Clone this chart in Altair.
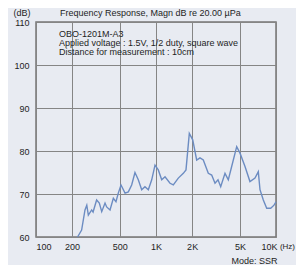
import altair as alt
import pandas as pd

freq = [222, 240, 256, 265, 273, 291, 299, 320, 337, 353,
        376, 388, 414, 441, 464, 485, 511, 552, 588, 627,
        668, 712, 760, 809, 863, 921, 981, 1045, 1116, 1189,
        1309, 1394, 1534, 1689, 1778, 1895, 2023, 2183, 2326, 2478,
        2728, 2911, 3103, 3286, 3461, 3758, 4004, 4272, 4704, 5012,
        5517, 6067, 6683, 7120, 7356, 7839, 8366, 9036, 9624, 10000]
db = [60.0, 61.6, 66.3, 67.4, 65.1, 66.3, 65.8, 68.6, 67.9, 65.9,
      67.9, 67.0, 66.3, 69.0, 68.2, 70.2, 72.1, 70.2, 70.5, 72.1,
      75.0, 73.3, 71.0, 71.7, 71.0, 73.3, 76.7, 75.6, 73.3, 74.0,
      72.5, 72.1, 73.7, 74.8, 75.6, 84.1, 82.6, 77.9, 78.4, 77.9,
      74.8, 74.4, 72.5, 73.3, 71.7, 74.8, 73.3, 76.4, 81.0, 79.5,
      76.4, 72.9, 73.7, 75.2, 71.0, 68.6, 66.7, 66.7, 67.4, 68.2]

x_ticks = [100, 200, 500, 1000, 2000, 5000, 10000]
x_tick_labels = ["100", "200", "500", "1K", "2K", "5K", "10K"]
y_ticks = [60, 70, 80, 90, 100, 110]

title_text = "Frequency Response, Magn dB re 20.00 µPa"
note_lines = ["OBO-1201M-A3",
              "Applied voltage : 1.5V, 1/2 duty, square wave",
              "Distance for measurement : 10cm"]

df = pd.DataFrame({"freq": freq, "db": db})

label_map = "{" + ",".join(f"'{v}':'{l}'" for v, l in zip(x_ticks, x_tick_labels)) + "}"

FONT = "Liberation Sans"
TXT = "#1e1e1e"

line = alt.Chart(df).mark_line(color="#6c8cc2", strokeWidth=1.4).encode(
    x=alt.X("freq:Q",
            scale=alt.Scale(type="log", domain=[100, 10000], nice=False),
            axis=alt.Axis(values=x_ticks, labelExpr=f"{label_map}[datum.value]",
                          ticks=False, domain=False, labelPadding=5,
                          labelAlign=alt.condition("datum.value <= 100", alt.value("left"), alt.value("center")),
                          labelOffset=alt.condition("datum.value >= 10000", alt.value(-7), alt.value(0)),
                          title="Mode: SSR", titleX=241, titleY=23, titleAlign="right",
                          titleBaseline="middle", titleFontWeight="normal",
                          gridColor="#858585", gridWidth=1)),
    y=alt.Y("db:Q",
            scale=alt.Scale(domain=[60, 110], nice=False, zero=False),
            axis=alt.Axis(values=y_ticks, ticks=False, domain=False, labelPadding=7,
                          title=None, gridColor="#858585", gridWidth=1)),
)

def label(text, x, y, align="left", baseline="middle", size=9):
    return alt.Chart(pd.DataFrame({"t": [text]})).mark_text(
        align=align, baseline=baseline, font=FONT, fontSize=size, color=TXT
    ).encode(text="t:N", x=alt.value(x), y=alt.value(y))

notes = alt.Chart(pd.DataFrame({"t": [note_lines]})).mark_text(
    align="left", baseline="top", font=FONT, fontSize=9, color=TXT, lineHeight=9
).encode(text="t", x=alt.value(23), y=alt.value(8))

chart = alt.layer(
    line,
    notes,
    label(title_text, 24, -9),
    label("(dB)", -14, -9, align="center"),
    label("(Hz)", 259, 225, align="right", size=8),
).properties(
    width=240, height=215,
    autosize=alt.AutoSizeParams(type="none"),
    padding={"left": 28, "top": 14, "right": 20, "bottom": 28},
    background="#e8ebf2",
).configure_view(
    stroke="#767676", strokeWidth=1.5, fill="#e8ebf2"
).configure_axis(
    labelFont=FONT, labelFontSize=9, labelColor=TXT,
    titleFont=FONT, titleFontSize=9, titleColor=TXT,
)

chart.save("out.html", embed_options={"renderer": "svg", "actions": False})
